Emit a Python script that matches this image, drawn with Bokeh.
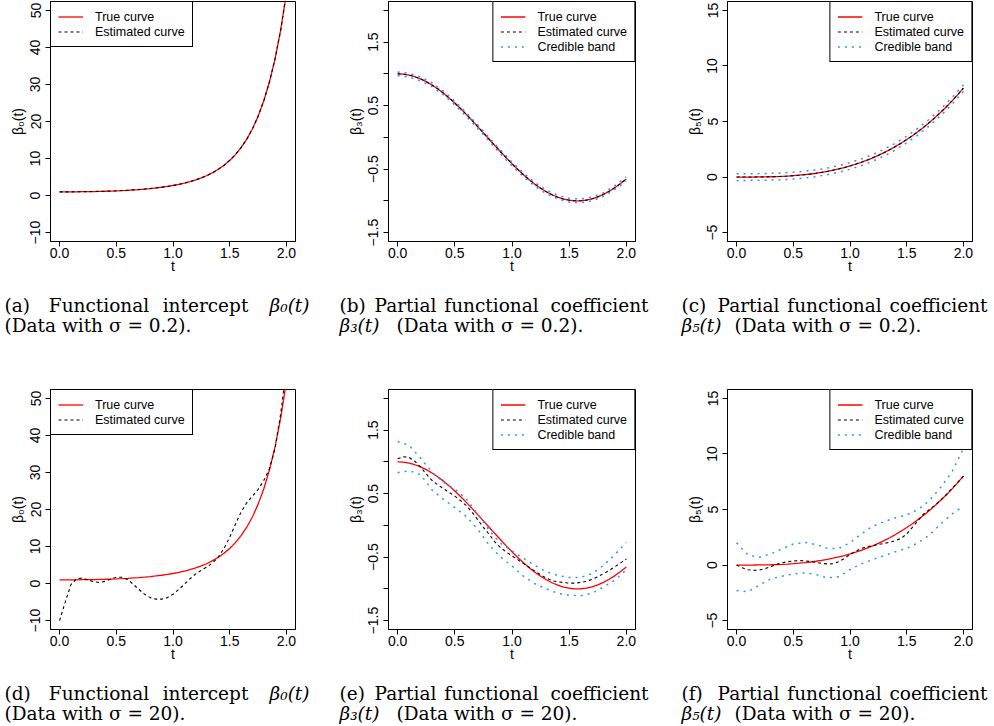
from bokeh.plotting import figure
from bokeh.layouts import row, column
from bokeh.models import Range1d, FixedTicker, Legend, LegendItem
from bokeh.core.properties import value
from bokeh.embed import file_html
from bokeh.resources import INLINE

# ---------------- data ----------------
T = [0.00, 0.05, 0.10, 0.15, 0.20, 0.25, 0.30, 0.35, 0.40, 0.45, 0.50, 0.55, 0.60, 0.65, 0.70,
     0.75, 0.80, 0.85, 0.90, 0.95, 1.00, 1.05, 1.10, 1.15, 1.20, 1.25, 1.30, 1.35, 1.40, 1.45,
     1.50, 1.55, 1.60, 1.65, 1.70, 1.75, 1.80, 1.85, 1.90, 1.95, 2.00]
TB = [0.0, 0.1, 0.2, 0.3, 0.4, 0.5, 0.6, 0.7, 0.8, 0.9, 1.0, 1.1, 1.2, 1.3, 1.4, 1.5, 1.6, 1.7,
      1.8, 1.9, 2.0]

beta0_true = [1.00, 1.00, 1.01, 1.02, 1.04, 1.06, 1.09, 1.13, 1.17, 1.22, 1.28, 1.35, 1.43, 1.53,
              1.63, 1.76, 1.90, 2.06, 2.25, 2.47, 2.72, 3.01, 3.35, 3.75, 4.22, 4.77, 5.42, 6.19,
              7.10, 8.19, 9.49, 11.05, 12.94, 15.22, 17.99, 21.38, 25.53, 30.65, 36.97, 44.82, 54.60]
beta3_true = [1.000, 0.995, 0.980, 0.955, 0.921, 0.878, 0.825, 0.765, 0.697, 0.622, 0.540, 0.454,
              0.362, 0.268, 0.170, 0.071, -0.029, -0.129, -0.227, -0.323, -0.416, -0.505, -0.589,
              -0.666, -0.737, -0.801, -0.857, -0.904, -0.942, -0.971, -0.990, -0.999, -0.998,
              -0.988, -0.967, -0.937, -0.897, -0.848, -0.791, -0.726, -0.654]
beta5_true = [0.000, 0.000, 0.001, 0.003, 0.008, 0.016, 0.027, 0.043, 0.064, 0.091, 0.125, 0.166,
              0.216, 0.275, 0.343, 0.422, 0.512, 0.614, 0.729, 0.857, 1.000, 1.158, 1.331, 1.521,
              1.728, 1.953, 2.197, 2.460, 2.744, 3.049, 3.375, 3.724, 4.096, 4.492, 4.913, 5.359,
              5.832, 6.332, 6.859, 7.415, 8.000]

# sigma = 0.2 (estimates sit on the true curves)
beta0_est_a = [1.00, 1.00, 1.01, 1.02, 1.04, 1.06, 1.09, 1.13, 1.17, 1.22, 1.28, 1.35, 1.43, 1.53,
               1.63, 1.76, 1.90, 2.06, 2.25, 2.47, 2.72, 3.01, 3.35, 3.75, 4.22, 4.77, 5.42, 6.19,
               7.10, 8.19, 9.49, 11.05, 12.94, 15.22, 17.99, 21.38, 25.53, 30.65, 36.97, 44.82, 54.60]
beta3_est_b = [1.000, 0.995, 0.980, 0.955, 0.921, 0.878, 0.825, 0.765, 0.697, 0.622, 0.540, 0.454,
               0.362, 0.268, 0.170, 0.071, -0.029, -0.129, -0.227, -0.323, -0.416, -0.505, -0.589,
               -0.666, -0.737, -0.801, -0.857, -0.904, -0.942, -0.971, -0.990, -0.999, -0.998,
               -0.988, -0.967, -0.937, -0.897, -0.848, -0.791, -0.726, -0.654]
beta3_up_b = [1.03, 1.01, 0.95, 0.86, 0.73, 0.57, 0.39, 0.20, 0.00, -0.20, -0.39, -0.56, -0.71,
              -0.83, -0.91, -0.96, -0.97, -0.94, -0.87, -0.76, -0.62]
beta3_lo_b = [0.97, 0.95, 0.89, 0.80, 0.67, 0.51, 0.33, 0.14, -0.06, -0.26, -0.45, -0.62, -0.77,
              -0.89, -0.97, -1.02, -1.03, -1.00, -0.93, -0.82, -0.69]
beta5_est_c = [0.000, 0.000, 0.001, 0.003, 0.008, 0.016, 0.027, 0.043, 0.064, 0.091, 0.125, 0.166,
               0.216, 0.275, 0.343, 0.422, 0.512, 0.614, 0.729, 0.857, 1.000, 1.158, 1.331, 1.521,
               1.728, 1.953, 2.197, 2.460, 2.744, 3.049, 3.375, 3.724, 4.096, 4.492, 4.913, 5.359,
               5.832, 6.332, 6.859, 7.415, 8.000]
beta5_up_c = [0.30, 0.30, 0.31, 0.33, 0.36, 0.43, 0.52, 0.64, 0.81, 1.03, 1.30, 1.63, 2.03, 2.50,
              3.04, 3.68, 4.40, 5.21, 6.13, 7.16, 8.30]
beta5_lo_c = [-0.30, -0.30, -0.29, -0.27, -0.24, -0.18, -0.08, 0.04, 0.21, 0.43, 0.70, 1.03, 1.43,
              1.90, 2.44, 3.08, 3.80, 4.61, 5.53, 6.56, 7.70]

# sigma = 20
beta0_est_d = [-10.0, -5.0, -0.3, 1.3, 1.5, 1.0, 0.5, 0.3, 0.6, 1.2, 1.7, 1.7, 1.1, -0.2, -1.6,
               -2.9, -3.8, -4.2, -4.2, -3.8, -2.9, -1.6, -0.2, 1.3, 2.6, 3.6, 4.5, 5.6, 7.2, 9.5,
               12.5, 16.0, 19.3, 21.8, 23.6, 25.4, 27.8, 31.0, 36.5, 46.0, 58.0]
beta3_est_e = [1.05, 1.08, 1.07, 1.01, 0.92, 0.81, 0.71, 0.64, 0.58, 0.52, 0.46, 0.39, 0.31, 0.21,
               0.09, -0.03, -0.14, -0.26, -0.35, -0.42, -0.48, -0.54, -0.60, -0.66, -0.72, -0.78,
               -0.83, -0.87, -0.89, -0.90, -0.91, -0.91, -0.90, -0.88, -0.85, -0.81, -0.76, -0.71,
               -0.65, -0.59, -0.53]
beta3_up_e = [1.32, 1.26, 1.06, 0.84, 0.68, 0.57, 0.42, 0.18, -0.08, -0.28, -0.40, -0.52, -0.63,
              -0.73, -0.79, -0.82, -0.82, -0.76, -0.63, -0.46, -0.27]
beta3_lo_e = [0.83, 0.86, 0.80, 0.56, 0.41, 0.28, 0.14, -0.06, -0.31, -0.50, -0.64, -0.80, -0.92,
              -1.00, -1.07, -1.10, -1.11, -1.07, -0.97, -0.86, -0.70]
beta5_est_f = [0.0, -0.25, -0.42, -0.48, -0.45, -0.32, -0.15, 0.05, 0.20, 0.30, 0.37, 0.40, 0.38,
               0.32, 0.24, 0.15, 0.10, 0.12, 0.30, 0.60, 0.95, 1.25, 1.50, 1.65, 1.75, 1.85, 1.95,
               2.05, 2.20, 2.40, 2.80, 3.40, 4.00, 4.60, 5.00, 5.40, 5.85, 6.35, 6.90, 7.45, 8.00]
beta5_up_f = [2.0, 0.9, 0.7, 1.0, 1.45, 1.9, 2.05, 1.85, 1.5, 1.5, 2.0, 2.8, 3.5, 3.9, 4.25, 4.5,
              5.0, 5.8, 7.0, 8.4, 10.5]
beta5_lo_f = [-2.3, -2.4, -1.8, -1.25, -1.0, -0.8, -0.7, -0.85, -1.15, -1.05, -0.4, 0.1, 0.5, 0.85,
              1.2, 1.5, 2.0, 2.7, 3.7, 4.6, 5.3]

X_TICKS = [0.0, 0.5, 1.0, 1.5, 2.0]
X_LABELS = ["0.0", "0.5", "1.0", "1.5", "2.0"]
Y0_TICKS = [-10, 0, 10, 20, 30, 40, 50]
Y0_LABELS = ["\u221210", "0", "10", "20", "30", "40", "50"]
Y3_TICKS = [-1.5, -1.0, -0.5, 0.0, 0.5, 1.0, 1.5, 2.0]
Y3_LABELS = ["\u22121.5", "", "\u22120.5", "", "0.5", "", "1.5", ""]
Y5_TICKS = [-5, 0, 5, 10, 15]
Y5_LABELS = ["\u22125", "0", "5", "10", "15"]

LEG_TRUE = "True curve"
LEG_EST = "Estimated curve"
LEG_BAND = "Credible band"

CAPTIONS = {
    "a": (["(a)", "Functional", "intercept", "\u03b2\u2080(t)"], None, "(Data with \u03c3 = 0.2)."),
    "b": (["(b)", "Partial", "functional", "coefficient"], "\u03b2\u2083(t)", "(Data with \u03c3 = 0.2)."),
    "c": (["(c)", "Partial", "functional", "coefficient"], "\u03b2\u2085(t)", "(Data with \u03c3 = 0.2)."),
    "d": (["(d)", "Functional", "intercept", "\u03b2\u2080(t)"], None, "(Data with \u03c3 = 20)."),
    "e": (["(e)", "Partial", "functional", "coefficient"], "\u03b2\u2083(t)", "(Data with \u03c3 = 20)."),
    "f": (["(f)", "Partial", "functional", "coefficient"], "\u03b2\u2085(t)", "(Data with \u03c3 = 20)."),
}

# ---------------- layout (pixels) ----------------
SANS = "Liberation Sans"
SERIF = "DejaVu Serif"
BLUE = "#2A95F5"

COL_X = [0, 337, 676]
W = [337, 339, 318]
BL = [50, 51, 51]
BR = [42, 41, 22]
PANEL_H, BT, BB = 280, 1, 39
CAP_H = [108, 56]
# caption anchors (page x): line1 words (left, center, center, right), line2 (lead left, text left)
CAP_X = [(4, 98.5, 205, 309, None, 4),
         (339, 405, 491, 648, 339, 396),
         (681, 748, 834, 987, 681, 734)]
CAP_Y = [24.5, 44.5]   # baselines from top of caption strip
CAP_SIZE = "18.5px"


def panel(ci, ylim, yticks, ylabels, ylab, true_y, est_y, up=None, lo=None,
          leg_loc="top_right"):
    w, bl, br = W[ci], BL[ci], BR[ci]
    pad = 0.04 * (ylim[1] - ylim[0])
    p = figure(width=w, height=PANEL_H, x_range=Range1d(-0.08, 2.08),
               y_range=Range1d(ylim[0] - pad, ylim[1] + pad),
               output_backend="svg", toolbar_location=None,
               min_border_left=bl, min_border_right=br, min_border_top=BT, min_border_bottom=BB)
    p.grid.visible = False
    p.outline_line_color = "black"
    p.outline_line_alpha = 1.0
    p.background_fill_color = "white"
    p.border_fill_color = "white"

    p.xaxis.ticker = FixedTicker(ticks=X_TICKS)
    p.xaxis.major_label_overrides = dict(zip(X_TICKS, X_LABELS))
    p.yaxis.ticker = FixedTicker(ticks=yticks)
    p.yaxis.major_label_overrides = dict(zip(yticks, ylabels))
    p.yaxis.major_label_orientation = "vertical"
    for ax in (p.xaxis[0], p.yaxis[0]):
        ax.axis_line_color = "black"
        ax.major_tick_line_color = "black"
        ax.minor_tick_line_color = None
        ax.major_tick_out = 5
        ax.major_tick_in = 0
        ax.major_label_text_font = SANS
        ax.major_label_text_font_size = "14px"
        ax.major_label_text_color = "black"
        ax.axis_label_text_font = SANS
        ax.axis_label_text_font_size = "14px"
        ax.axis_label_text_font_style = "normal"
        ax.axis_label_text_color = "black"
    p.xaxis.major_label_standoff = 1
    p.xaxis.axis_label_standoff = -3
    p.yaxis.major_label_standoff = 5
    p.yaxis.axis_label_standoff = 2
    p.xaxis.axis_label = "t"
    p.yaxis.axis_label = ylab

    r_true = p.line(T, true_y, line_color="red", line_width=1.3)
    r_est = p.line(T, est_y, line_color="black", line_width=1.1, line_dash="3 3")
    items = [LegendItem(label=LEG_TRUE, renderers=[r_true]),
             LegendItem(label=LEG_EST, renderers=[r_est])]
    if up is not None:
        r_up = p.line(TB, up, line_color=BLUE, line_width=1.5, line_dash="2 5")
        p.line(TB, lo, line_color=BLUE, line_width=1.5, line_dash="2 5")
        items.append(LegendItem(label=LEG_BAND, renderers=[r_up]))
    leg = Legend(items=items, location=leg_loc, margin=0, padding=7, spacing=0,
                 glyph_width=25, glyph_height=15, label_height=15, label_standoff=12,
                 label_text_font=SANS, label_text_font_size="12.5px", label_text_color="black",
                 border_line_color="black", border_line_width=1, border_line_alpha=1.0,
                 background_fill_color="white", background_fill_alpha=1.0)
    p.add_layout(leg)
    return p


def caption(ci, ri, cap):
    w, hc = W[ci], CAP_H[ri]
    c = figure(width=w, height=hc, x_range=Range1d(0, w), y_range=Range1d(hc, 0),
               output_backend="svg", toolbar_location=None, min_border=0,
               x_axis_type=None, y_axis_type=None)
    c.grid.visible = False
    c.outline_line_color = None
    c.background_fill_color = "white"
    c.border_fill_color = "white"
    words, lead, line2 = cap
    cx = [v - COL_X[ci] if v is not None else None for v in CAP_X[ci]]
    aligns = ["left", "center", "center", "right"]

    def put(x, y, txt, align, style):
        c.text(x=[x], y=[y], text=[txt], text_font=value(SERIF), text_font_size=value(CAP_SIZE),
               text_font_style=value(style), text_align=value(align),
               text_baseline=value("alphabetic"), text_color="black")

    for k in range(4):
        put(cx[k], CAP_Y[0], words[k], aligns[k],
            "italic" if words[k].startswith("\u03b2") else "normal")
    if lead:
        put(cx[4], CAP_Y[1], lead, "left", "italic")
    put(cx[5], CAP_Y[1], line2, "left", "normal")
    return c


pa = panel(0, (-10, 50), Y0_TICKS, Y0_LABELS, "\u03b2\u2080(t)", beta0_true, beta0_est_a,
           leg_loc="top_left")
pb = panel(1, (-1.5, 2.0), Y3_TICKS, Y3_LABELS, "\u03b2\u2083(t)", beta3_true, beta3_est_b,
           beta3_up_b, beta3_lo_b)
pc = panel(2, (-5, 15), Y5_TICKS, Y5_LABELS, "\u03b2\u2085(t)", beta5_true, beta5_est_c,
           beta5_up_c, beta5_lo_c)
pd = panel(0, (-10, 50), Y0_TICKS, Y0_LABELS, "\u03b2\u2080(t)", beta0_true, beta0_est_d,
           leg_loc="top_left")
pe = panel(1, (-1.5, 2.0), Y3_TICKS, Y3_LABELS, "\u03b2\u2083(t)", beta3_true, beta3_est_e,
           beta3_up_e, beta3_lo_e)
pf = panel(2, (-5, 15), Y5_TICKS, Y5_LABELS, "\u03b2\u2085(t)", beta5_true, beta5_est_f,
           beta5_up_f, beta5_lo_f)

ca = caption(0, 0, CAPTIONS["a"])
cb = caption(1, 0, CAPTIONS["b"])
cc = caption(2, 0, CAPTIONS["c"])
cd = caption(0, 1, CAPTIONS["d"])
ce = caption(1, 1, CAPTIONS["e"])
cf = caption(2, 1, CAPTIONS["f"])

layout = column(row(pa, pb, pc), row(ca, cb, cc), row(pd, pe, pf), row(cd, ce, cf))
open("out.html", "w").write(file_html(layout, INLINE))
